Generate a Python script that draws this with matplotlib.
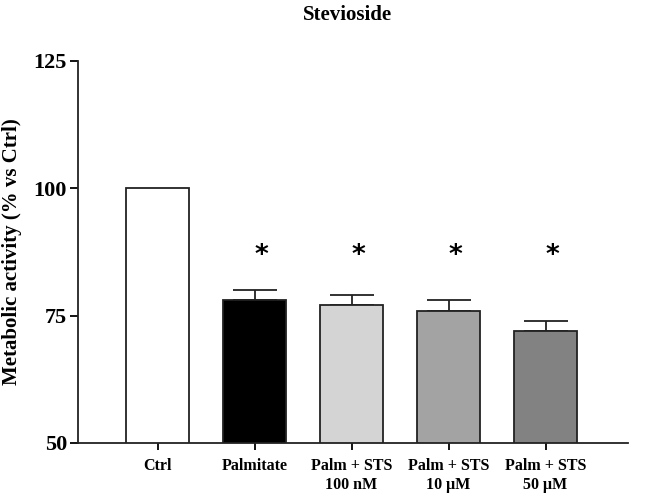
import matplotlib
matplotlib.use("Agg")
import matplotlib.pyplot as plt
import numpy as np

categories = ["Ctrl", "Palmitate", "Palm + STS\n100 nM", "Palm + STS\n10 μM", "Palm + STS\n50 μM"]
values = [100, 78, 77, 76, 72]
sem = [0, 2, 2, 2, 2]
colors = ["#ffffff", "#000000", "#d4d4d4", "#a3a3a3", "#828282"]
signif = ["", "*", "*", "*", "*"]
yticks = [50, 75, 100, 125]

plt.rcParams['font.family'] = ['Liberation Serif', 'DejaVu Serif']
plt.rcParams['font.weight'] = 'bold'

fig = plt.figure(figsize=(6.46, 4.97), dpi=100)
ax = fig.add_axes([78/646, 1-443/497, (628-78)/646, (443-61)/497])

x = np.arange(len(categories))
ax.bar(x, values, width=0.65, color=colors, edgecolor="#222222", linewidth=1.3, zorder=2)
err_x = [xi for xi, s in zip(x, sem) if s > 0]
err_v = [v for v, s in zip(values, sem) if s > 0]
err_s = [s for s in sem if s > 0]
ax.errorbar(err_x, err_v, yerr=[np.zeros(len(err_s)), err_s], fmt="none",
            ecolor="#222222", elinewidth=1.3, capsize=16, capthick=1.3, zorder=1)
for xi, s, v, e in zip(x, signif, values, sem):
    if s:
        ax.text(xi + 0.07, 86.8, s, ha="center", va="center", fontsize=19,
                fontweight="bold", family="DejaVu Sans")

ax.set_ylim(50, 125)
ax.set_xlim(-0.82, 4.85)
ax.set_yticks(yticks)
ax.set_yticklabels([str(t) for t in yticks], fontsize=16, fontweight="bold")
ax.set_xticks(x)
ax.set_xticklabels(categories, fontsize=11.5, fontweight="bold", linespacing=1.25)
ax.spines["top"].set_visible(False)
ax.spines["right"].set_visible(False)
for s in ["left", "bottom"]:
    ax.spines[s].set_linewidth(1.3)
    ax.spines[s].set_color("#222222")
ax.tick_params(axis="y", direction="out", length=6, width=1.3, pad=2)
ax.tick_params(axis="x", direction="out", length=5, width=1.3, pad=6)
fig.text(12/646, 1-252/497, "Metabolic activity (% vs Ctrl)", rotation=90,
         ha="center", va="center", fontsize=15, fontweight="bold")
fig.text(348/646, 1-15/497, "Stevioside", ha="center", va="center", fontsize=15, fontweight="bold")

fig.savefig("out.png", dpi=100)
